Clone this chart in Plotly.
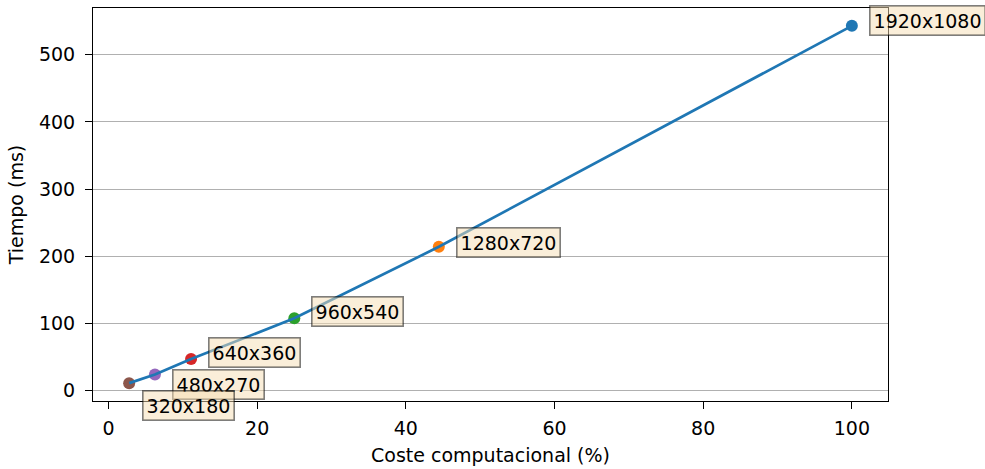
import plotly.graph_objects as go

# Resolution labels, computational cost (% of 1920x1080) and measured time (ms)
resoluciones = ["1920x1080", "1280x720", "960x540", "640x360", "480x270", "320x180"]
coste_pct = [100.0, 44.44, 25.0, 11.11, 6.25, 2.78]
tiempo_ms = [543, 214, 107.5, 47, 24, 11]

# matplotlib tab10 colours, one per resolution
colores = ["#1f77b4", "#ff7f0e", "#2ca02c", "#d62728", "#9467bd", "#8c564b"]

# label placement relative to each marker (pixels)
label_dx = [17, 17, 17, 17, 17, 13]
label_dy = [5, 4.5, 6.5, 6.5, -10, -22]

FONT = "DejaVu Sans"
FS = 19

fig = go.Figure()

# coloured markers underneath the line
fig.add_trace(go.Scatter(
    x=coste_pct, y=tiempo_ms, mode="markers",
    marker=dict(color=colores, size=12, line=dict(width=0)),
    showlegend=False, hoverinfo="skip",
))

# connecting line on top
fig.add_trace(go.Scatter(
    x=coste_pct, y=tiempo_ms, mode="lines",
    line=dict(color="#1f77b4", width=2.7),
    showlegend=False,
))

for name, xv, yv, dx, dy in zip(resoluciones, coste_pct, tiempo_ms, label_dx, label_dy):
    fig.add_annotation(
        x=xv, y=yv, text=name, showarrow=False,
        xanchor="left", yanchor="middle", xshift=dx, yshift=dy,
        font=dict(family=FONT, size=FS, color="black"),
        bgcolor="rgba(245,222,179,0.5)",
        bordercolor="rgba(0,0,0,0.5)", borderwidth=1.6, borderpad=3,
    )

xmin, xmax = min(coste_pct), max(coste_pct)
ymin, ymax = min(tiempo_ms), max(tiempo_ms)
xpad = 0.05 * (xmax - xmin)
ypad = 0.05 * (ymax - ymin)

axis_common = dict(
    showline=True, linecolor="black", linewidth=1.1, mirror=True,
    ticks="outside", ticklen=7, tickwidth=1.1, tickcolor="black",
    tickfont=dict(family=FONT, size=FS, color="black"),
    zeroline=False,
)

fig.update_xaxes(
    range=[xmin - xpad, xmax + xpad], tickvals=[0, 20, 40, 60, 80, 100],
    showgrid=False, ticklabelstandoff=3,
    title=dict(text="Coste computacional (%)", font=dict(family=FONT, size=FS, color="black"), standoff=10),
    **axis_common,
)
fig.update_yaxes(
    range=[ymin - ypad, ymax + ypad], tickvals=[0, 100, 200, 300, 400, 500],
    showgrid=True, gridcolor="#b0b0b0", gridwidth=1.1, ticklabelstandoff=6,
    title=dict(text="Tiempo (ms)", font=dict(family=FONT, size=FS, color="black"), standoff=10),
    **axis_common,
)

fig.update_layout(
    width=985, height=469,
    margin=dict(l=93, r=97, t=7, b=66),
    plot_bgcolor="white", paper_bgcolor="white",
    font=dict(family=FONT, size=FS, color="black"),
)

fig.write_html("out.html")
